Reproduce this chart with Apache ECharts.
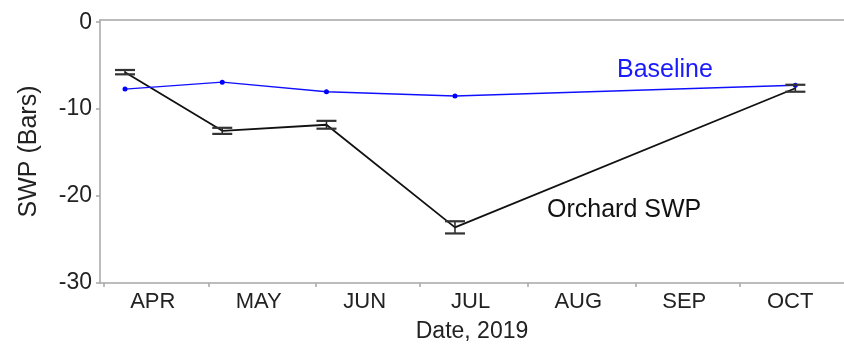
<!DOCTYPE html>
<html>
<head>
<meta charset="utf-8">
<script src="https://cdn.jsdelivr.net/npm/echarts@6/dist/echarts.min.js"></script>
<style>
html,body{margin:0;padding:0;background:#fff;}
#chart{width:844px;height:348px;}
</style>
</head>
<body>
<div id="chart"></div>
<script>
// ---- data ----
var sampleDates = ['2019-04-07', '2019-05-05', '2019-06-04', '2019-07-11', '2019-10-17'];
var orchardSWP = [-5.75, -12.5, -11.8, -23.6, -7.6];
var orchardErr = [0.25, 0.35, 0.45, 0.7, 0.4];
var baselineSWP = [-7.7, -6.9, -8.0, -8.5, -7.25];
var monthStarts = ['2019-04-01', '2019-05-01', '2019-06-01', '2019-07-01', '2019-08-01', '2019-09-01', '2019-10-01', '2019-11-01'];
var monthLabels = ['APR', 'MAY', 'JUN', 'JUL', 'AUG', 'SEP', 'OCT'];
var yTicks = [-30, -20, -10, 0];

// ---- helpers ----
var origin = Date.UTC(2019, 3, 1);
function dayOf(s) {
  var p = s.split('-');
  return (Date.UTC(+p[0], +p[1] - 1, +p[2]) - origin) / 86400000;
}
var sampleDays = sampleDates.map(dayOf);
var tickDays = monthStarts.map(dayOf);
var labelDays = monthLabels.map(function (m, i) { return (tickDays[i] + tickDays[i + 1]) / 2 - 1; });
var labelMap = {};
labelDays.forEach(function (d, i) { labelMap[d] = monthLabels[i]; });

var orchardData = sampleDays.map(function (d, i) { return [d, orchardSWP[i]]; });
var baselineData = sampleDays.map(function (d, i) { return [d, baselineSWP[i]]; });
var errData = sampleDays.map(function (d, i) { return [d, orchardSWP[i] - orchardErr[i], orchardSWP[i] + orchardErr[i]]; });

var FONT = '"Liberation Sans", Arial, sans-serif';
var axisGray = '#a6a6a6';

var chart = echarts.init(document.getElementById('chart'), null, {renderer: 'canvas'});
chart.setOption({
  animation: false,
  backgroundColor: '#fff',
  grid: {left: 100, right: 0, top: 20, bottom: 65, containLabel: false, outerBoundsMode: 'none'},
  xAxis: [{
    type: 'value',
    min: -1.2,
    max: 213,
    name: 'Date, 2019',
    nameLocation: 'middle',
    nameGap: 37,
    nameTextStyle: {fontFamily: FONT, fontSize: 23, color: '#222'},
    axisLine: {show: true, onZero: false, lineStyle: {color: axisGray, width: 1.5}},
    axisTick: {show: true, length: 4, inside: false, customValues: tickDays, lineStyle: {color: axisGray, width: 1.5}},
    axisLabel: {
      customValues: labelDays,
      fontFamily: FONT, fontSize: 22, color: '#222', margin: 8,
      formatter: function (v) { return labelMap[v] || ''; }
    },
    splitLine: {show: false}
  }, {
    type: 'value',
    position: 'top',
    min: -1.2,
    max: 213,
    axisLine: {show: true, onZero: false, lineStyle: {color: axisGray, width: 1.5}},
    axisTick: {show: false},
    axisLabel: {show: false},
    splitLine: {show: false}
  }],
  yAxis: {
    type: 'value',
    min: -30,
    max: 0.25,
    name: 'SWP (Bars)',
    nameLocation: 'middle',
    nameGap: 58,
    nameTextStyle: {fontFamily: FONT, fontSize: 25, color: '#222'},
    axisLine: {show: true, onZero: false, lineStyle: {color: axisGray, width: 1.5}},
    axisTick: {show: true, length: 4, customValues: yTicks, lineStyle: {color: axisGray, width: 1.5}},
    axisLabel: {customValues: yTicks, fontFamily: FONT, fontSize: 23, color: '#222', margin: 8},
    splitLine: {show: false}
  },
  series: [{
    name: 'Baseline',
    type: 'line',
    data: baselineData,
    symbol: 'circle',
    symbolSize: 5,
    itemStyle: {color: '#0000ff'},
    lineStyle: {color: '#1010ff', width: 1.4},
    z: 3
  }, {
    name: 'Orchard SWP',
    type: 'line',
    data: orchardData,
    symbol: 'none',
    lineStyle: {color: '#111', width: 1.8},
    z: 2
  }, {
    name: 'err',
    type: 'custom',
    data: errData,
    z: 4,
    renderItem: function (params, api) {
      var x = api.value(0);
      var lo = api.coord([x, api.value(1)]);
      var hi = api.coord([x, api.value(2)]);
      var hw = 10;
      var st = {stroke: '#222', lineWidth: 1.5};
      var cap = {stroke: '#333', lineWidth: 2.2};
      return {
        type: 'group',
        children: [
          {type: 'line', shape: {x1: lo[0], y1: lo[1], x2: hi[0], y2: hi[1]}, style: st},
          {type: 'line', shape: {x1: lo[0] - hw, y1: lo[1], x2: lo[0] + hw, y2: lo[1]}, style: cap},
          {type: 'line', shape: {x1: hi[0] - hw, y1: hi[1], x2: hi[0] + hw, y2: hi[1]}, style: cap}
        ]
      };
    }
  }],
  graphic: [
    {type: 'text', left: 617, top: 58, style: {text: 'Baseline', fontFamily: FONT, fontSize: 25, fill: '#1a1aff'}},
    {type: 'text', left: 547, top: 198, style: {text: 'Orchard SWP', fontFamily: FONT, fontSize: 25, fill: '#111'}}
  ]
});
</script>
</body>
</html>
